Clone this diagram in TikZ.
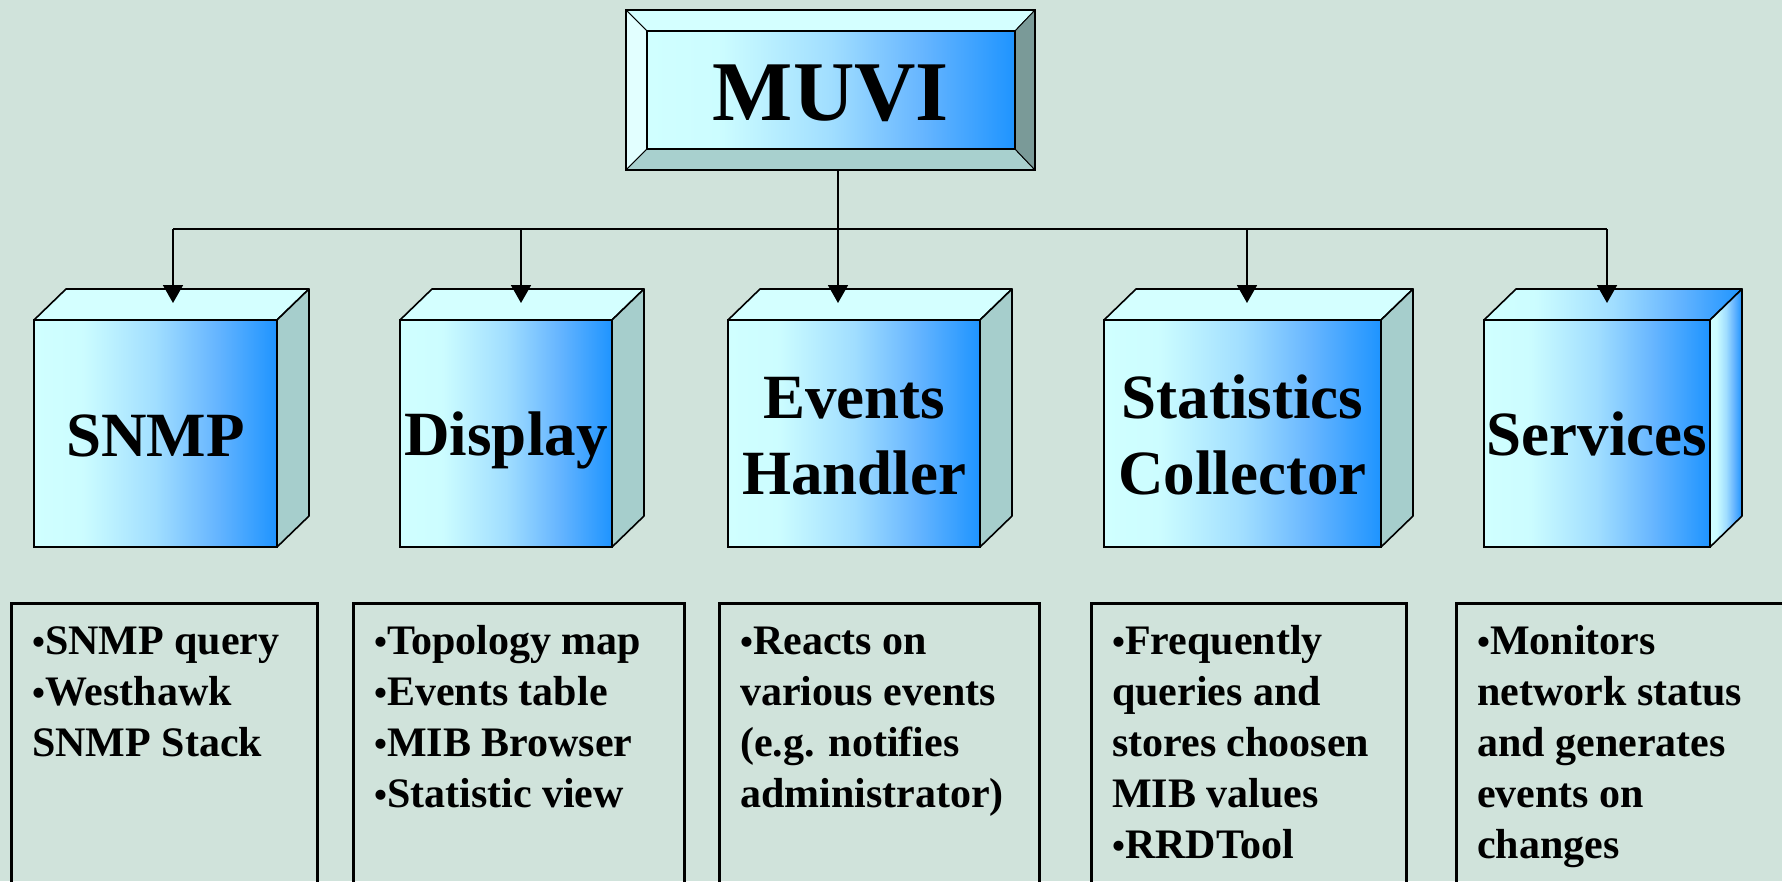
\documentclass[tikz,border=0pt]{standalone}
\usepackage{fontspec}
\setmainfont{Liberation Serif}
\usetikzlibrary{arrows.meta,calc}
\definecolor{bg}{RGB}{208,227,219}
\definecolor{topc}{RGB}{212,255,255}
\definecolor{sidec}{RGB}{166,206,204}
\definecolor{gl}{RGB}{208,255,255}
\definecolor{gr}{RGB}{30,148,255}
\definecolor{bevL}{RGB}{226,255,255}
\definecolor{bevB}{RGB}{168,208,206}
\definecolor{bevR}{RGB}{122,154,152}
\pgfdeclarehorizontalshading{cubegrad}{100bp}{rgb(0bp)=(0.816,1,1); rgb(25bp)=(0.816,1,1); rgb(35bp)=(0.8,0.99,1); rgb(50bp)=(0.63,0.87,1); rgb(62.5bp)=(0.40,0.71,1); rgb(75bp)=(0.118,0.58,1); rgb(100bp)=(0.118,0.58,1)}
\newcommand{\bul}{\raisebox{0pt}{\fontsize{37}{37}\selectfont •}}
\newcommand{\cubebox}[3]{%
  \node[frontface, minimum width={#3-#2}] (#1) at (#2,320) {};
  \path[edge, fill=topc] (#1.north west) -- ++(32,-31) -- ($(#1.north east)+(32,-31)$) -- (#1.north east) -- cycle;
  \path[edge, fill=sidec] (#1.north east) -- ++(32,-31) -- ($(#1.south east)+(32,-31)$) -- (#1.south east) -- cycle;
}
\tikzset{
  frontface/.style={draw=black, line width=1.6pt, shading=cubegrad, inner sep=0pt, outer sep=0pt, anchor=north west, minimum height=227pt},
  edge/.style={draw=black, line width=1.6pt, line join=round},
  bevel/.style={draw=black, line width=0.9pt, line join=round},
  lbl/.style={font=\fontsize{63}{76}\selectfont\bfseries, inner sep=0pt, anchor=base},
  bigl/.style={font=\fontsize{85}{90}\selectfont\bfseries, inner sep=0pt, anchor=base},
  infobox/.style={draw=black, line width=3pt, anchor=north west, inner sep=0pt, outer sep=0pt, minimum height=320pt},
  info/.style={font=\fontsize{42}{51}\selectfont\bfseries, inner sep=0pt, anchor=base west},
  conn/.style={line width=1.8pt},
  arr/.style={conn, -{Triangle[width=20pt,length=18pt]}},
}
\begin{document}
\begin{tikzpicture}[x=1pt,y=-1pt]
\useasboundingbox (0,0) rectangle (1782,881);
\clip (0,0) rectangle (1782,881);
\fill[bg] (0,0) rectangle (1782,881);

% MUVI bevel box
\node[inner sep=0pt, outer sep=0pt, minimum width=409pt, minimum height=160pt, anchor=north west] (muvi) at (626,10) {};
\node[inner sep=0pt, outer sep=0pt, minimum width=368pt, minimum height=118pt, anchor=north west] (muviin) at (647,31) {};
\path[bevel, fill=topc] (muvi.north west) -- (muvi.north east) -- (muviin.north east) -- (muviin.north west) -- cycle;
\path[bevel, fill=bevL] (muvi.north west) -- (muviin.north west) -- (muviin.south west) -- (muvi.south west) -- cycle;
\path[bevel, fill=bevB] (muvi.south west) -- (muviin.south west) -- (muviin.south east) -- (muvi.south east) -- cycle;
\path[bevel, fill=bevR] (muvi.north east) -- (muviin.north east) -- (muviin.south east) -- (muvi.south east) -- cycle;
\shade[shading=cubegrad, draw=black, line width=1.2pt] (muviin.north west) rectangle (muviin.south east);
\draw[line width=1.8pt] (muvi.north west) rectangle (muvi.south east);
\node[bigl] (muvit) at (831,120) {MUVI};

% cubes
\cubebox{snmp}{34}{277}
\cubebox{disp}{400}{612}
\cubebox{evh}{728}{980}
\cubebox{stat}{1104}{1381}
\node[frontface, minimum width=226pt] (serv) at (1484,320) {};
\path[edge, shading=cubegrad] (serv.north west) -- ++(32,-31) -- ($(serv.north east)+(32,-31)$) -- (serv.north east) -- cycle;
\path[edge, shading=cubegrad] (serv.north east) -- ++(32,-31) -- ($(serv.south east)+(32,-31)$) -- (serv.south east) -- cycle;

\node[lbl] (snmpl) at (155.5,456) {SNMP};
\node[lbl] (displ) at (506,455) {Display};
\node[lbl] (evhl1) at (854,418) {Events};
\node[lbl] (evhl2) at (854,494) {Handler};
\node[lbl] (statl1) at (1242.5,418) {Statistics};
\node[lbl] (statl2) at (1242.5,494) {Collector};
\node[lbl] (servl) at (1597,455) {Services};

% connectors
\coordinate (bus) at (0,229);
\coordinate (inA) at (173,303);
\coordinate (inB) at (521,303);
\coordinate (inC) at (838,303);
\coordinate (inD) at (1247,303);
\coordinate (inE) at (1607,303);
\draw[conn] (inA |- bus) -- (inE |- bus);
\draw[arr] (muvi.south -| inC) -- (inC);
\draw[arr] (inA |- bus) -- (inA);
\draw[arr] (inB |- bus) -- (inB);
\draw[arr] (inD |- bus) -- (inD);
\draw[arr] (inE |- bus) -- (inE);

% info boxes
\node[infobox, minimum width=306pt] (b1) at (11,603) {};
\node[infobox, minimum width=331pt] (b2) at (353,603) {};
\node[infobox, minimum width=320pt] (b3) at (719,603) {};
\node[infobox, minimum width=315pt] (b4) at (1091,603) {};
\node[infobox, minimum width=360pt] (b5) at (1456,603) {};

\node[info] (t1) at ($(b1.north west)+(21,51)$) {\parbox[t]{290pt}{\raggedright\bul SNMP query\\\bul Westhawk\\SNMP Stack}};
\node[info] (t2) at ($(b2.north west)+(21,51)$) {\parbox[t]{320pt}{\raggedright\bul Topology map\\\bul Events table\\\bul MIB Browser\\\bul Statistic view}};
\node[info] (t3) at ($(b3.north west)+(21,51)$) {\parbox[t]{310pt}{\raggedright\bul Reacts on\\various events\\(e.g. notifies\\administrator)}};
\node[info] (t4) at ($(b4.north west)+(21,51)$) {\parbox[t]{310pt}{\raggedright\bul Frequently\\queries and\\stores choosen\\MIB values\\\bul RRDTool}};
\node[info] (t5) at ($(b5.north west)+(21,51)$) {\parbox[t]{310pt}{\raggedright\bul Monitors\\network status\\and generates\\events on\\changes}};
\end{tikzpicture}
\end{document}
